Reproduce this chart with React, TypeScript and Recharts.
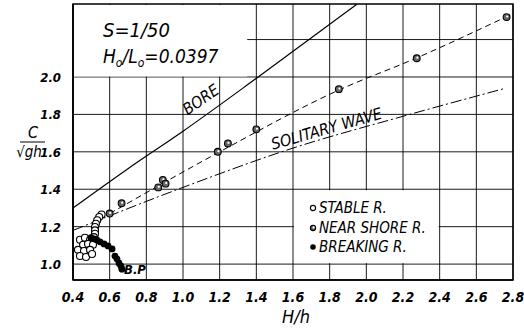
import { ComposedChart, Line, Scatter, XAxis, YAxis, CartesianGrid } from 'recharts';

// wave celerity vs relative wave height, slope 1/50
const xTicks = [0.4, 0.6, 0.8, 1.0, 1.2, 1.4, 1.6, 1.8, 2.0, 2.2, 2.4, 2.6, 2.8];
const yTicks = [1.0, 1.2, 1.4, 1.6, 1.8, 2.0];
const yGrid = [1.0, 1.2, 1.4, 1.6, 1.8, 2.0, 2.2];

const stableH = [0.556, 0.543, 0.532, 0.525, 0.52, 0.52, 0.52, 0.514, 0.438, 0.465, 0.493, 0.455, 0.482, 0.509, 0.427, 0.46, 0.493, 0.438, 0.471, 0.504];
const stableC = [1.265, 1.252, 1.234, 1.216, 1.198, 1.18, 1.162, 1.144, 1.13, 1.141, 1.13, 1.103, 1.108, 1.103, 1.076, 1.07, 1.076, 1.043, 1.038, 1.054];

const nearShoreH = [0.6, 0.665, 0.865, 0.89, 0.905, 1.19, 1.245, 1.4, 1.85, 2.275, 2.765];
const nearShoreC = [1.27, 1.325, 1.41, 1.45, 1.43, 1.6, 1.645, 1.72, 1.935, 2.1, 2.32];

const breakingH = [0.498, 0.514, 0.529, 0.547, 0.569, 0.591, 0.613, 0.629, 0.64, 0.651, 0.662, 0.667];
const breakingC = [1.141, 1.135, 1.13, 1.119, 1.108, 1.097, 1.081, 1.043, 1.027, 1.005, 0.989, 0.973];

const boreH = [0.4, 0.7, 1.0, 1.41, 1.95];
const boreC = [1.3, 1.51, 1.71, 2.0, 2.39];

const solitaryH = [0.4, 1.0, 1.6, 2.2, 2.76];
const solitaryC = [1.18, 1.41, 1.62, 1.79, 1.94];

const trendH = [0.6, 1.2, 1.85, 2.27, 2.76];
const trendC = [1.27, 1.6, 1.93, 2.1, 2.32];

const zip = (h: number[], c: number[]) => h.map((v, i) => ({ h: v, c: c[i] }));

const W = 524;
const H = 328;
const LEFT = 73;
const RIGHT = 11;
const TOP = 4;
const XAXIS_H = 48;
const X_DOMAIN: [number, number] = [0.4, 2.8];
const Y_DOMAIN: [number, number] = [0.915, 2.39];

const PW = W - LEFT - RIGHT;
const PH = H - TOP - XAXIS_H;
const sx = (h: number) => LEFT + ((h - X_DOMAIN[0]) / (X_DOMAIN[1] - X_DOMAIN[0])) * PW;
const sy = (c: number) => TOP + ((Y_DOMAIN[1] - c) / (Y_DOMAIN[1] - Y_DOMAIN[0])) * PH;

const FONT = "'DejaVu Sans Condensed', 'DejaVu Sans', sans-serif";
const textStyle = { fontFamily: FONT, fontStyle: 'italic' as const, fontStretch: 'condensed' as const };

const OpenDot = (p: any) => (
  <circle cx={p.cx} cy={p.cy} r={p.r ?? 3.5} fill="#fff" stroke="#000" strokeWidth={1.1} />
);
const HalfDot = (p: any) => (
  <g>
    <circle cx={p.cx} cy={p.cy} r={p.r ?? 3.4} fill="#666" stroke="#000" strokeWidth={1.1} />
    <circle cx={p.cx + 0.6} cy={p.cy - 0.6} r={1.1} fill="#fff" />
  </g>
);
const FilledDot = (p: any) => <circle cx={p.cx} cy={p.cy} r={p.r ?? 3.4} fill="#000" />;

const XTick = (p: any) => (
  <text x={p.x} y={p.y + 14} textAnchor="middle" fontSize={14} fontWeight="bold" fill="#000" style={textStyle}>
    {p.payload.value.toFixed(1)}
  </text>
);
const YTick = (p: any) => (
  <text x={p.x - 4} y={p.y + 5} textAnchor="end" fontSize={13} fontWeight="bold" fill="#000" style={textStyle}>
    {p.payload.value.toFixed(1)}
  </text>
);

export default function App() {
  return (
    <div style={{ position: 'absolute', left: 0, top: 0, width: W, height: H, background: '#fff' }}>
      <ComposedChart width={W} height={H} margin={{ top: TOP, right: RIGHT, left: 0, bottom: 0 }}>
        <CartesianGrid
          stroke="#000"
          strokeWidth={0.9}
          horizontalValues={yGrid}
          verticalValues={xTicks}
        />
        <XAxis
          type="number"
          dataKey="h"
          domain={X_DOMAIN}
          ticks={xTicks}
          height={XAXIS_H}
          tickLine={false}
          axisLine={{ stroke: '#000', strokeWidth: 1.5 }}
          tick={<XTick />}
          allowDataOverflow
        />
        <YAxis
          type="number"
          dataKey="c"
          domain={Y_DOMAIN}
          ticks={yTicks}
          width={LEFT}
          tickLine={false}
          axisLine={{ stroke: '#000', strokeWidth: 1.5 }}
          tick={<YTick />}
          allowDataOverflow
        />
        <Line data={zip(boreH, boreC)} dataKey="c" type="monotone" stroke="#000" strokeWidth={1.2} dot={false} isAnimationActive={false} />
        <Line data={zip(solitaryH, solitaryC)} dataKey="c" type="monotone" stroke="#000" strokeWidth={1} strokeDasharray="11 3 2 3" dot={false} isAnimationActive={false} />
        <Line data={zip(trendH, trendC)} dataKey="c" type="monotone" stroke="#000" strokeWidth={1} strokeDasharray="6 4" dot={false} isAnimationActive={false} />
        <Scatter data={zip(stableH, stableC)} dataKey="c" shape={<OpenDot />} isAnimationActive={false} />
        <Scatter data={zip(nearShoreH, nearShoreC)} dataKey="c" shape={<HalfDot />} isAnimationActive={false} />
        <Scatter data={zip(breakingH, breakingC)} dataKey="c" shape={<FilledDot />} isAnimationActive={false} />
      </ComposedChart>

      <svg width={W} height={H} style={{ position: 'absolute', left: 0, top: 0, pointerEvents: 'none' }}>
        {/* blank corner holding the run parameters */}
        <rect x={LEFT + 1} y={TOP + 1} width={sx(1.35) - LEFT - 1} height={sy(2.0) - TOP - 1.5} fill="#fff" />
        <text x={103} y={37} fontSize={20} style={textStyle}>S=1/50</text>
        <text x={103} y={63} fontSize={19} style={textStyle}>
          H<tspan fontSize={12} dy={4}>o</tspan>
          <tspan dy={-4}>/L</tspan>
          <tspan fontSize={12} dy={4}>o</tspan>
          <tspan dy={-4}>=0.0397</tspan>
        </text>

        {/* legend */}
        <rect x={sx(1.6) + 1} y={sy(1.4) + 1} width={sx(2.4) - sx(1.6) - 2} height={sy(1.0) - sy(1.4) - 2} fill="#fff" />
        <OpenDot cx={313} cy={208} r={2.6} />
        <HalfDot cx={313} cy={228} r={2.6} />
        <FilledDot cx={313} cy={247} r={2.8} />
        <text x={319} y={213} fontSize={15} style={textStyle}>STABLE R.</text>
        <text x={319} y={233} fontSize={15} style={textStyle}>NEAR SHORE R.</text>
        <text x={319} y={252} fontSize={15} style={textStyle}>BREAKING R.</text>

        {/* frame */}
        <rect x={sx(0.4)} y={sy(2.39)} width={PW} height={PH} fill="none" stroke="#000" strokeWidth={1.5} />

        {/* curve labels */}
        <text x={204} y={104} fontSize={16} textAnchor="middle" transform="rotate(-35 204 104)" style={textStyle}>BORE</text>
        <text x={328} y={134} fontSize={16} textAnchor="middle" transform="rotate(-16 328 134)" style={textStyle}>SOLITARY WAVE</text>
        <text x={124} y={274} fontSize={13} fontWeight="bold" style={textStyle}>B.P</text>

        {/* axis titles */}
        <text x={33} y={138} fontSize={16} textAnchor="middle" style={textStyle}>C</text>
        <line x1={20} y1={142} x2={45} y2={142} stroke="#000" strokeWidth={1} />
        <text x={29} y={157} fontSize={15} textAnchor="middle" style={textStyle}>√gh</text>
        <text x={296} y={323} fontSize={18} textAnchor="middle" style={textStyle}>H/h</text>
      </svg>
    </div>
  );
}
